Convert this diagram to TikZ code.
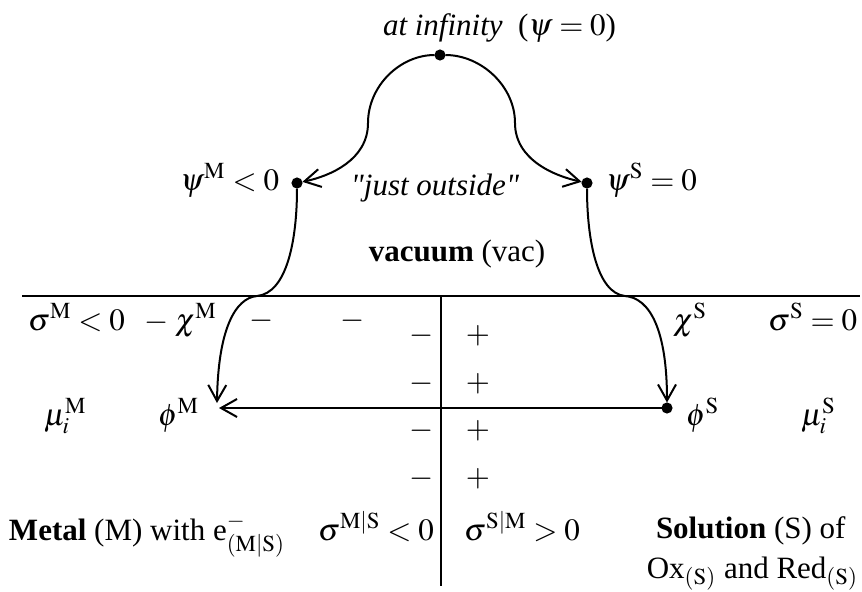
\documentclass[tikz,border=0pt]{standalone}
\usepackage{mathptmx}
\usepackage{fontspec}
\setmainfont{Liberation Serif}
\usetikzlibrary{arrows.meta}

\newcommand*{\xmin}{0}
\newcommand*{\xmax}{862}
\newcommand*{\ymin}{0}
\newcommand*{\ymax}{591}
\newcommand*{\surf}{296}
\newcommand*{\iface}{441}

\begin{document}
\begin{tikzpicture}
[
	x=0.5pt,
	y=-0.5pt,
	dot/.style={circle,draw,fill,inner sep=0pt,minimum size=4.5pt},
	lbl/.style={inner sep=0pt,font=\fontsize{15.5}{18}\selectfont},
	charge/.style={lbl,anchor=base},
	line width=1pt,
	>={Straight Barb[length=8pt,width=9pt]}
]
	\useasboundingbox (\xmin,\ymin) rectangle (\xmax,\ymax);

	% surface and interface
	\coordinate (surfL) at (22,\surf);
	\coordinate (surfR) at (860,\surf);
	\coordinate (ifTop) at (\iface,\surf);
	\coordinate (ifBot) at (\iface,586);
	\draw (surfL) -- (surfR);
	\draw (ifTop) -- (ifBot);

	% points
	\node[dot] at (440,55) (inf) {};
	\node[dot] at (297,183) (psiM) {};
	\node[dot] at (587,183) (psiS) {};
	\node[dot] at (667,408) (phiS) {};
	\coordinate (crossM) at (257,\surf);
	\coordinate (crossS) at (625,\surf);
	\coordinate (downM) at (217,403);
	\coordinate (leftM) at (219,408);

	% through the vacuum
	\draw[->] (inf) .. controls (400,55) and (368,86) .. (368,123)
	  .. controls (368,160) and (330,176) .. (psiM);
	\draw[->] (inf) .. controls (481,55) and (515,86) .. (515,123)
	  .. controls (515,160) and (555,176) .. (psiS);

	% into the phases
	\draw[->] (psiM) .. controls (297,240) and (287,293) .. (crossM)
	  .. controls (235,298) and (218,330) .. (downM);
	\draw[->] (psiS) .. controls (587,240) and (597,293) .. (crossS)
	  .. controls (650,298) and (667,330) .. (phiS);
	\draw[->] (phiS) -- (leftM);

	% vacuum labels
	\node[lbl,anchor=base west] (infLbl) at (382,35) {\textit{at infinity}\enspace($\psi = 0$)};
	\node[lbl,anchor=base east] (psiMLbl) at (280,190) {$\psi^{\mathrm{M}} < 0$};
	\node[lbl,anchor=base west] (psiSLbl) at (605,190) {$\psi^{\mathrm{S}} = 0$};
	\node[lbl,anchor=base] (outside) at (435,195) {\textit{\textquotedbl just outside\textquotedbl}};
	\node[lbl,anchor=base] (vacLbl) at (457,261) {\textbf{vacuum} (vac)};

	% metal side
	\node[lbl,anchor=base west] (sigM) at (27,330) {$\sigma^{\mathrm{M}} < 0$};
	\node[lbl,anchor=base west] (chiM) at (143,330) {$-\;\chi^{\mathrm{M}}$};
	\node[charge] (qa) at (262,328) {$-$};
	\node[charge] (qb) at (353,328) {$-$};
	\node[lbl,anchor=base west] (muM) at (43,425) {$\mu_i^{\mathrm{M}}$};
	\node[lbl,anchor=base west] (phiMLbl) at (157,425) {$\phi^{\mathrm{M}}$};
	\node[lbl,anchor=base west] (metal) at (8,540) {\textbf{Metal} (M) with e$^{-}_{\mathrm{(M|S)}}$};
	\node[lbl,anchor=base west] (sigMS) at (317,540) {$\sigma^{\mathrm{M|S}} < 0$};

	% double layer
	\foreach \y [count=\i] in {343,391,438,486} {
		\node[charge] (neg\i) at (422,\y) {$-$};
		\node[charge] (pos\i) at (478,\y) {$+$};
	}

	% solution side
	\node[lbl,anchor=base west] (chiS) at (672,330) {$\chi^{\mathrm{S}}$};
	\node[lbl,anchor=base west] (sigS) at (767,330) {$\sigma^{\mathrm{S}} = 0$};
	\node[lbl,anchor=base west] (phiSLbl) at (685,425) {$\phi^{\mathrm{S}}$};
	\node[lbl,anchor=base west] (muS) at (800,425) {$\mu_i^{\mathrm{S}}$};
	\node[lbl,anchor=base west] (sigSM) at (463,540) {$\sigma^{\mathrm{S|M}} > 0$};
	\node[lbl,anchor=base west] (sol) at (655,538) {\textbf{Solution} (S) of};
	\node[lbl,anchor=base east] (oxred) at (859,578) {Ox$_{\mathrm{(S)}}$ and Red$_{\mathrm{(S)}}$};

\end{tikzpicture}
\end{document}
